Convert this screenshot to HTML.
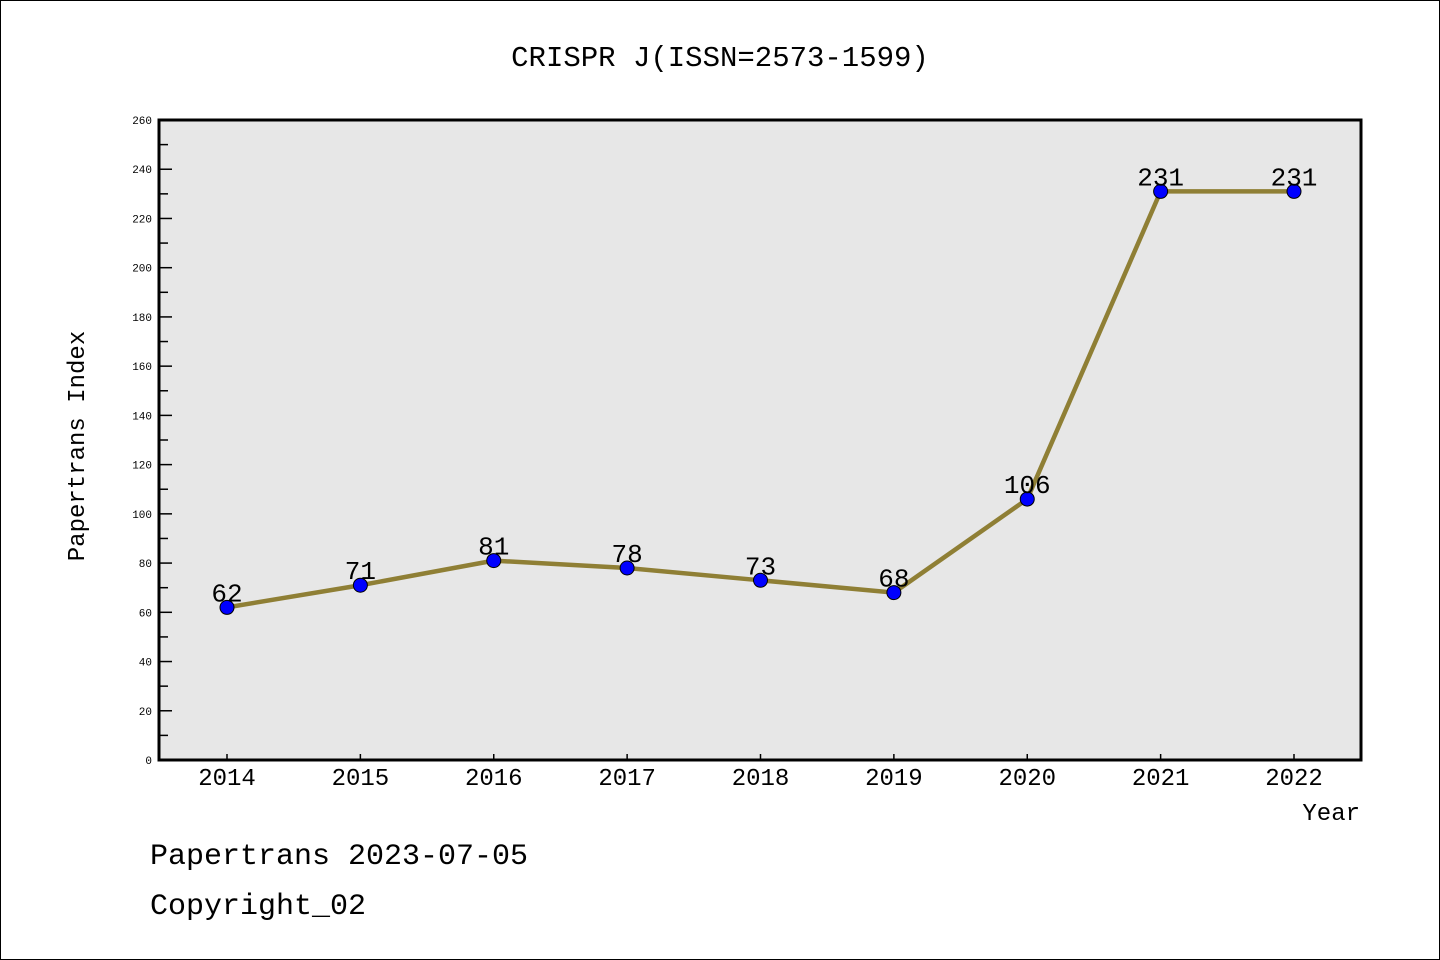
<!DOCTYPE html>
<html><head><meta charset="utf-8"><style>
html,body{margin:0;padding:0;background:#fff}
svg{display:block}
text{font-family:"Liberation Mono","WenQuanYi Zen Hei",monospace;fill:#000}
</style></head><body>
<svg width="1440" height="960" xmlns="http://www.w3.org/2000/svg">
<rect x="0.5" y="0.5" width="1439" height="959" fill="#fff" stroke="#000" stroke-width="1"/>
<text x="720" y="66" font-size="29" text-anchor="middle">CRISPR J(ISSN=2573-1599)</text>
<rect x="159" y="120" width="1202" height="640" fill="#e7e7e7"/>
<g id="yaxis"></g>
<g id="xaxis"></g>
<g id="series"></g>
<rect x="159" y="120" width="1202" height="640" fill="none" stroke="#000" stroke-width="3"/>
<text transform="translate(84,446) rotate(-90)" font-size="24" text-anchor="middle">Papertrans Index</text>
<text x="1360" y="820" font-size="24" text-anchor="end">Year</text>
<text x="150" y="864" font-size="30">Papertrans 2023-07-05</text>
<text x="150" y="914" font-size="30">Copyright_02</text>
</svg>
<script>
const years=["2014","2015","2016","2017","2018","2019","2020","2021","2022"];
const values=[62,71,81,78,73,68,106,231,231];
const yTicks=[0,20,40,60,80,100,120,140,160,180,200,220,240,260];
{
const NS="http://www.w3.org/2000/svg";
const yMin=0,yMax=260,plotTop=120,plotBot=760;
function ys(v){return plotBot-(v-yMin)/(yMax-yMin)*(plotBot-plotTop);}
function xs(i){return 227+i*(1294-227)/(years.length-1);}
function mk(tag,attrs,parent,txt){const e=document.createElementNS(NS,tag);for(const k in attrs)e.setAttribute(k,attrs[k]);if(txt!==undefined)e.textContent=txt;parent.appendChild(e);return e;}
const ya=document.getElementById('yaxis'),xa=document.getElementById('xaxis'),sg=document.getElementById('series');
yTicks.forEach((t,i)=>{
 const y=ys(t);
 const l=mk('line',{x1:159,x2:172,y1:y,y2:y,stroke:'#000','stroke-width':1.5},ya);
 
 
 const tx=mk('text',{x:152,y:y+4,'font-size':11,'text-anchor':'end'},ya,String(t));
 
 
 if(i<yTicks.length-1){const ym=ys((t+yTicks[i+1])/2);
  const m=mk('line',{x1:159,x2:168,y1:ym,y2:ym,stroke:'#000','stroke-width':1.5},ya);
  
  }
});
years.forEach((yr,i)=>{
 const x=xs(i);
 const l=mk('line',{x1:x,x2:x,y1:760,y2:754,stroke:'#000','stroke-width':1.5},xa);
 
 
 const t=mk('text',{x:x,y:785,'font-size':24,'text-anchor':'middle'},xa,yr);
 
 
});
const pts=values.map((v,i)=>xs(i)+','+ys(v)).join(' ');
const pl=mk('polyline',{points:pts,fill:'none',stroke:'#8f7f35','stroke-width':4.5,'stroke-linejoin':'round'},sg);


values.forEach((v,i)=>{
 const c=mk('circle',{cx:xs(i),cy:ys(v),r:7,fill:'#0000ff',stroke:'#000','stroke-width':1},sg);
 
 
 const t=mk('text',{x:xs(i),y:ys(v)-6,'font-size':26,'text-anchor':'middle'},sg,String(v));
 
 
});
}
</script>
</body></html>
